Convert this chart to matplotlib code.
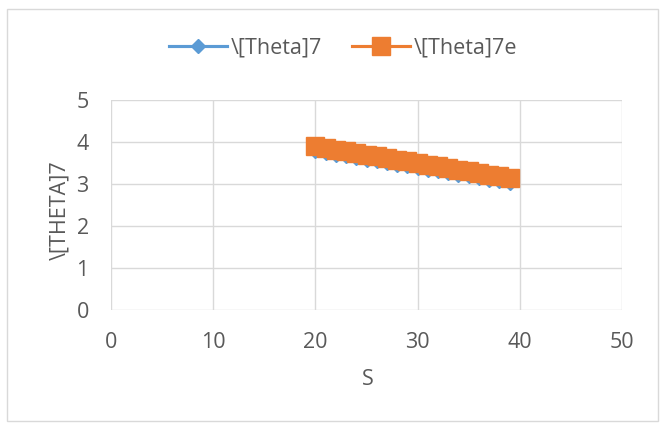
import matplotlib
matplotlib.use("Agg")
import matplotlib.pyplot as plt
from matplotlib.patches import Rectangle

plt.rcParams['font.family'] = ['Open Sans', 'DejaVu Sans']

s_values = [20, 21, 22, 23, 24, 25, 26, 27, 28, 29, 30, 31, 32, 33, 34, 35, 36, 37, 38, 39]
theta7 = [3.78, 3.74, 3.70, 3.66, 3.62, 3.58, 3.54, 3.50, 3.46, 3.42,
          3.38, 3.34, 3.30, 3.26, 3.22, 3.18, 3.14, 3.10, 3.06, 3.02]
theta7e = [3.90, 3.86, 3.82, 3.78, 3.74, 3.70, 3.66, 3.62, 3.58, 3.54,
           3.50, 3.46, 3.42, 3.38, 3.34, 3.30, 3.26, 3.22, 3.18, 3.14]
x_ticks = [0, 10, 20, 30, 40, 50]
y_ticks = [0, 1, 2, 3, 4, 5]

W, H = 660, 423
fig = plt.figure(figsize=(6.6, 4.23), dpi=100)
fig.patches.append(Rectangle((7 / W, 1 - 421 / H), 651 / W, 412 / H, transform=fig.transFigure,
                             fill=False, edgecolor='#d9d9d9', linewidth=1))
ax = fig.add_axes([111 / W, 1 - 310 / H, 511 / W, 210 / H])

ax.plot(s_values, theta7, color='#5b9bd5', marker='D', markersize=7, linewidth=2.25,
        label='\\[Theta]7', zorder=3)
ax.plot(s_values, theta7e, color='#ed7d31', marker='s', markersize=12.5, linewidth=2.25,
        label='\\[Theta]7e', zorder=4)

ax.set_xlim(0, 50)
ax.set_ylim(0, 5)
ax.set_xticks(x_ticks)
ax.set_yticks(y_ticks)
ax.grid(True, color='#d9d9d9', linewidth=1)
ax.set_axisbelow(True)
for sp in ax.spines.values():
    sp.set_visible(False)
ax.tick_params(length=0, labelsize=15.5, labelcolor='#595959')
ax.tick_params(axis='x', pad=16)
ax.tick_params(axis='y', pad=16)
ax.set_xlabel('S', fontsize=15.5, color='#595959')
ax.set_ylabel('\\[THETA]7', fontsize=15.5, color='#595959')
ax.xaxis.set_label_coords(0.5 + 1 / 511, -(369 - 310) / 210)
ax.yaxis.set_label_coords(-(111 - 70) / 511, 0.5 - 5 / 210)

leg = fig.legend(loc='center', bbox_to_anchor=(0.52, 1 - 48 / H), ncol=2, frameon=False,
                 fontsize=15.5, handlelength=2.7, columnspacing=1.4, handletextpad=0.15)
for t in leg.get_texts():
    t.set_color('#595959')

fig.savefig('out.png', dpi=100)
